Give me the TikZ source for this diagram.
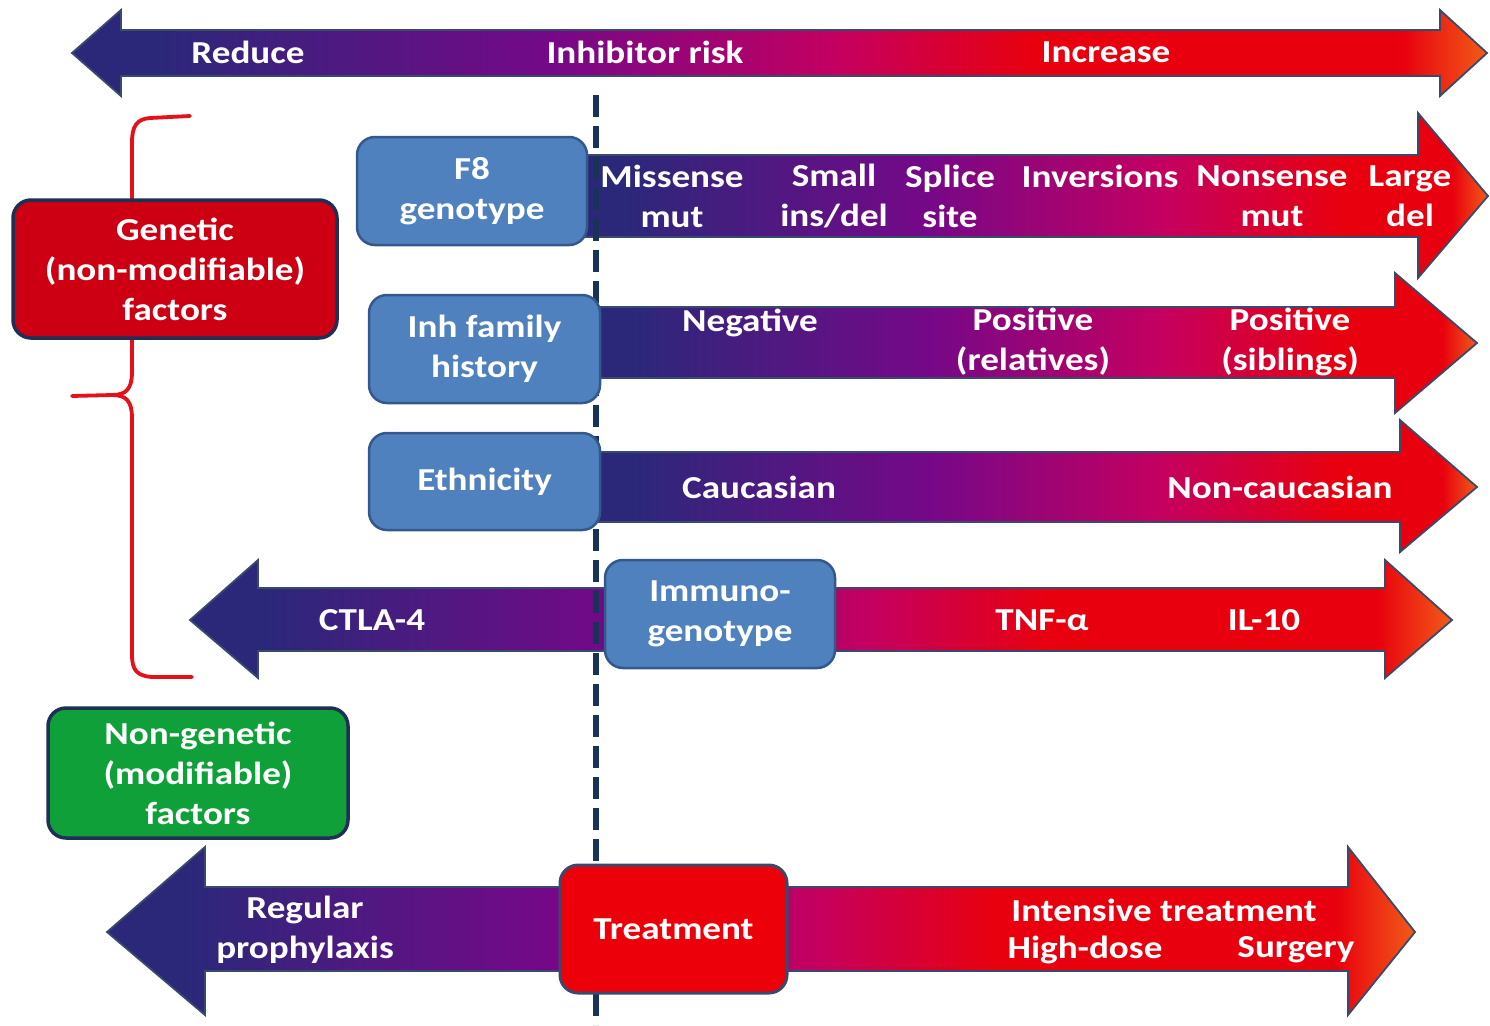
\documentclass[tikz,border=0pt]{standalone}
\usepackage{fontspec}
\setmainfont{Carlito}[FakeStretch=1.16]
\definecolor{navy}{RGB}{43,40,122}
\definecolor{purp}{RGB}{118,8,136}
\definecolor{mag}{RGB}{196,0,96}
\definecolor{rred}{RGB}{232,0,14}
\definecolor{orng}{RGB}{242,92,24}
\definecolor{arredge}{RGB}{58,74,108}
\definecolor{boxblue}{RGB}{79,129,190}
\definecolor{boxedge}{RGB}{52,88,138}
\definecolor{darkedge}{RGB}{30,48,84}
\definecolor{genred}{RGB}{204,0,18}
\definecolor{nongreen}{RGB}{16,160,58}
\definecolor{treatred}{RGB}{236,0,10}
\definecolor{dashcol}{RGB}{24,50,88}
\definecolor{bracered}{RGB}{230,16,26}
\pgfdeclarehorizontalshading{riskshade}{100bp}{color(0bp)=(navy); color(28bp)=(navy); color(42bp)=(purp); color(52bp)=(mag); color(59bp)=(rred); color(72bp)=(rred); color(75bp)=(orng); color(100bp)=(orng)}
\pgfdeclarehorizontalshading{rowshade}{100bp}{color(0bp)=(navy); color(27bp)=(navy); color(44bp)=(purp); color(57bp)=(mag); color(67bp)=(rred); color(73bp)=(rred); color(75bp)=(orng); color(100bp)=(orng)}
\tikzset{
  lab/.style={text=white, font=\bfseries\fontsize{32}{40}\selectfont, align=center, inner sep=0pt},
  boxbase/.style={rounded corners=18pt, lab},
  bluebox/.style={boxbase, draw=boxedge, line width=2.5pt, fill=boxblue},
  arrbody/.style={draw=arredge, line width=1.8pt, line join=miter},
  bracestyle/.style={bracered, line width=3.8pt, line cap=round},
}
\begin{document}
\begin{tikzpicture}[x=1pt,y=-1pt]
\useasboundingbox (0,0) rectangle (1490,1025);
\fill[white] (0,0) rectangle (1490,1025);
% top arrow
\path[arrbody, shading=riskshade] (72,53) -- (121,10) -- (121,30) -- (1440,30) -- (1440,10) -- (1487,53) -- (1440,96) -- (1440,76) -- (121,76) -- (121,96) -- cycle;
% F8 arrow
\path[arrbody, shading=rowshade] (585,155) -- (1418,155) -- (1418,113) -- (1488,196) -- (1418,278) -- (1418,237) -- (585,237) -- cycle;
% Inh arrow
\path[arrbody, shading=rowshade] (597,307) -- (1395,307) -- (1395,273) -- (1477,343) -- (1395,413) -- (1395,378) -- (597,378) -- cycle;
% Ethnicity arrow
\path[arrbody, shading=rowshade] (597,452) -- (1400,452) -- (1400,420) -- (1477,487) -- (1400,552) -- (1400,522) -- (597,522) -- cycle;
% Immuno arrow
\path[arrbody, shading=riskshade] (190,620) -- (258,560) -- (258,588) -- (1385,588) -- (1385,560) -- (1452,620) -- (1385,678) -- (1385,651) -- (258,651) -- (258,678) -- cycle;
% Treatment arrow
\path[arrbody, shading=riskshade] (107,932) -- (205,847) -- (205,887) -- (1348,887) -- (1348,847) -- (1415,932) -- (1348,1015) -- (1348,971) -- (205,971) -- (205,1015) -- cycle;
% dashed line
\coordinate (dtop) at (596,95);
\coordinate (dbot) at (596,1025);
\draw[dashcol, line width=5.5pt, dash pattern=on 22pt off 9pt] (dtop) -- (dbot);
% brace
\draw[bracestyle] (190,116) -- (150,118) .. controls (137,119) and (132,126) .. (132,142) -- (132,372) .. controls (132,389) and (126,395) .. (112,395) -- (72,396);
\draw[bracestyle] (112,395) .. controls (126,395) and (132,401) .. (132,418) -- (132,655) .. controls (132,670) and (137,676) .. (152,677) -- (192,677);
% boxes
\node[bluebox, minimum width=230pt, minimum height=108pt] (f8) at (472,191) {F8\\genotype};
\node[bluebox, minimum width=231pt, minimum height=108pt] (inh) at (484.5,349) {Inh family\\history};
\node[bluebox, minimum width=231pt, minimum height=97pt] (eth) at (484.5,481.5) {Ethnicity};
\node[bluebox, minimum width=230pt, minimum height=108pt] (imm) at (720,614) {Immuno-\\genotype};
\node[boxbase, draw=arredge, line width=3pt, fill=treatred, minimum width=227pt, minimum height=128pt] (treat) at (673.5,929) {Treatment};
\node[boxbase, draw=darkedge, line width=3.5pt, fill=genred, minimum width=324pt, minimum height=138pt] (gen) at (175,269) {Genetic\\(non-modifiable)\\factors};
\node[boxbase, draw=darkedge, line width=3.5pt, fill=nongreen, minimum width=300pt, minimum height=130pt] (nongen) at (198,773) {Non-genetic\\(modifiable)\\factors};
% top labels
\node[lab] (reduce) at (248,52) {Reduce};
\node[lab] (risk) at (645,52) {Inhibitor risk};
\node[lab] (incr) at (1106,52) {Increase};
% F8 labels
\node[lab] (mis) at (672,196) {Missense\\mut};
\node[lab] (small) at (834,196) {Small\\ins/del};
\node[lab] (splice) at (950,196) {Splice\\site};
\node[lab] (inv) at (1100,176) {Inversions};
\node[lab] (non) at (1272,196) {Nonsense\\mut};
\node[lab] (large) at (1410,196) {Large\\del};
% Inh labels
\node[lab] (neg) at (750,323) {Negative};
\node[lab] (posrel) at (1033,342) {Positive\\(relatives)};
\node[lab] (possib) at (1290,342) {Positive\\(siblings)};
% Ethnicity labels
\node[lab] (cauc) at (759,487) {Caucasian};
\node[lab] (noncauc) at (1280,487) {Non-caucasian};
% Immuno labels
\node[lab] (ctla) at (372,620) {CTLA-4};
\node[lab] (tnf) at (1042,620) {TNF-α};
\node[lab] (il) at (1264,620) {IL-10};
% Treatment labels
\node[lab] (reg) at (305,930) {Regular\\prophylaxis};
\node[lab] (intens) at (1164,910) {Intensive treatment};
\node[lab] (hd) at (1085,950) {High-dose};
\node[lab] (surg) at (1296,950) {Surgery};
\end{tikzpicture}
\end{document}
